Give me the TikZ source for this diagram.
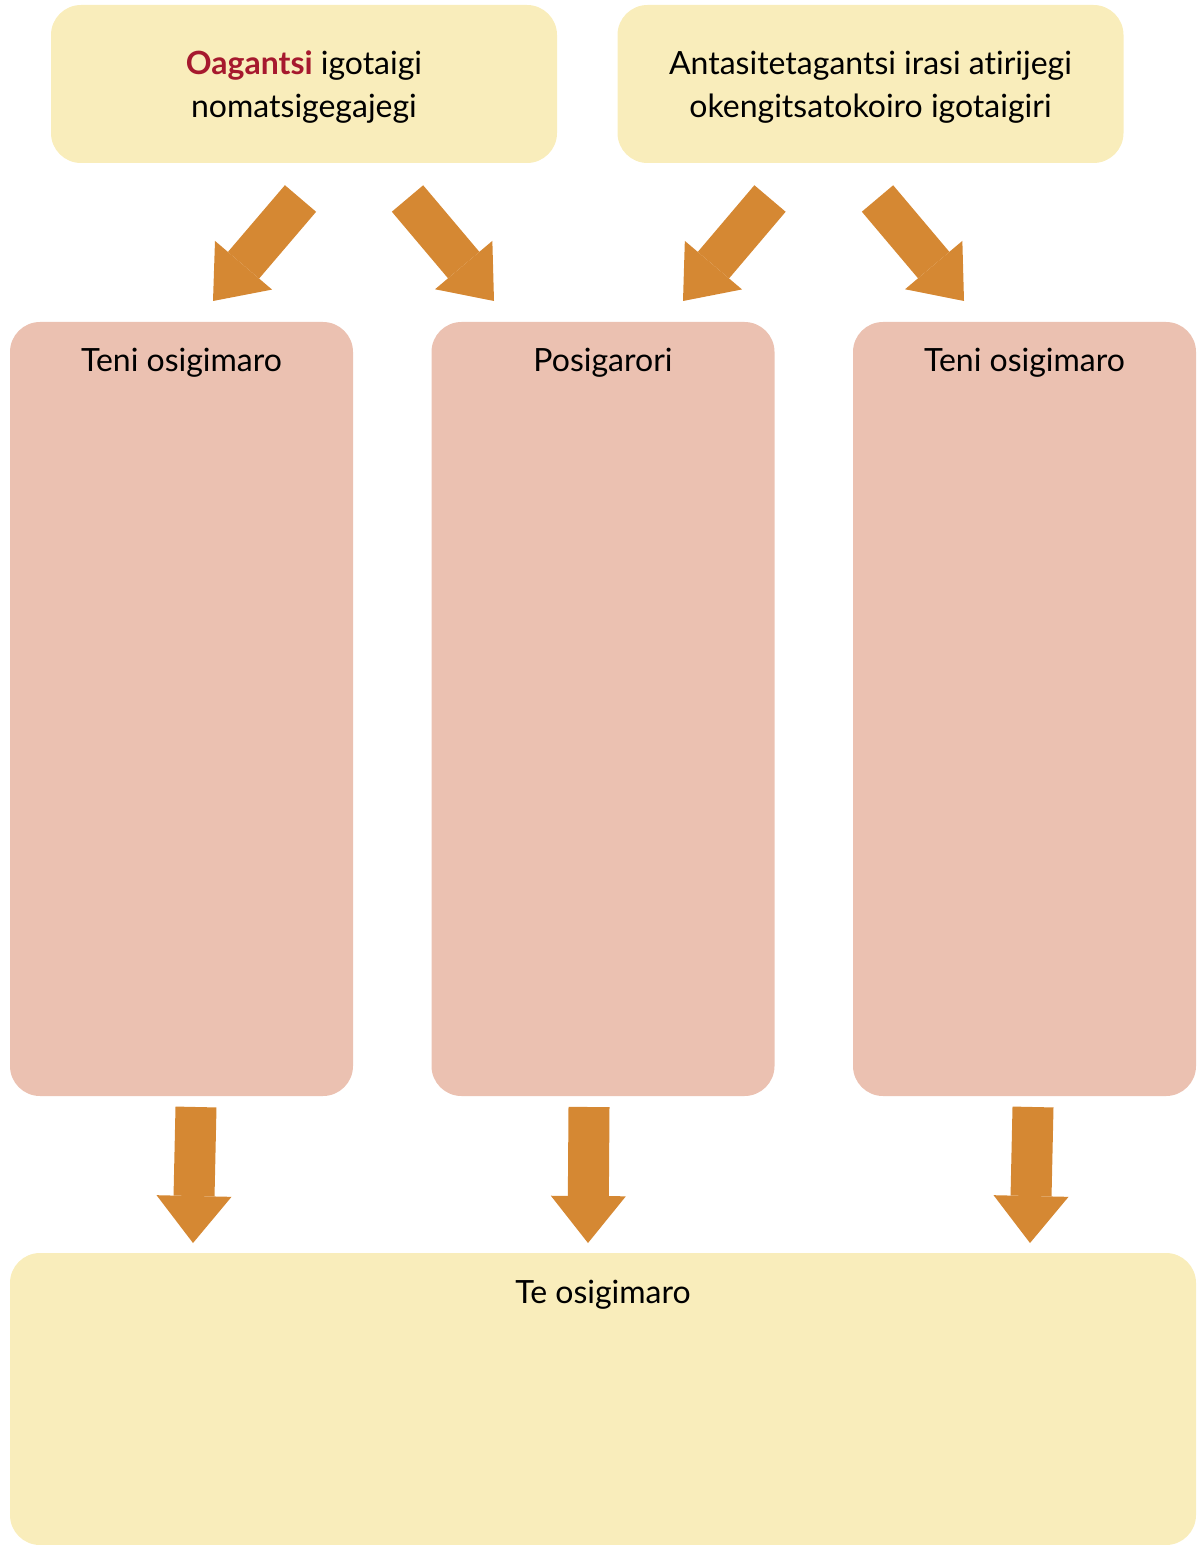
\documentclass[tikz,border=0pt]{standalone}
\usepackage{fontspec}
\setmainfont{Lato}[Ligatures={NoCommon}]
\usetikzlibrary{positioning, arrows.meta}
\definecolor{paleyellow}{HTML}{F9EDBB}
\definecolor{palepink}{HTML}{EBC1B1}
\definecolor{ochre}{HTML}{D58833}
\definecolor{wine}{HTML}{A6192E}

\begin{document}
\begin{tikzpicture}[
  x=0.5pt, y=-0.5pt,
  every node/.style={font=\fontsize{16}{21.5}\selectfont},
  box/.style={rounded corners=15pt, inner sep=0pt},
  topbox/.style={box, fill=paleyellow, minimum width=253pt, minimum height=79pt, align=center, text depth=0pt},
  colbox/.style={box, fill=palepink, minimum width=171.5pt, minimum height=387pt},
  basebox/.style={box, fill=paleyellow, minimum width=593pt, minimum height=146pt},
  title/.style={anchor=base, inner sep=0pt},
  fat/.style={draw=ochre, line width=20.5pt, -{Triangle[length=23.5pt, width=37.5pt, line width=0pt]}}
]
\useasboundingbox (0,0) rectangle (1197,1545);

% Top row: two sources
\node[topbox] (src1) at (304,84) {{\bfseries\color{wine}Oagantsi} igotaigi\\nomatsigegajegi};
\node[topbox] (src2) at (870.5,84) {Antasitetagantsi irasi atirijegi\\okengitsatokoiro igotaigiri};

% Middle row: three columns
\node[colbox] (col1) at (181.5,709) {};
\node[colbox] (col2) at (603,709) {};
\node[colbox] (col3) at (1024.5,709) {};
\node[title] (head1) at (181.5,372) {Teni osigimaro};
\node[title] (head2) at (603,372) {Posigarori};
\node[title] (head3) at (1024.5,372) {Teni osigimaro};

% Bottom row
\node[basebox] (sum) at (603,1399) {};
\node[title] (head4) at (603,1303) {Te osigimaro};

% Arrow ends
\coordinate (a1s) at (300.5,198.5); \coordinate (a1e) at (213,301);
\coordinate (a2s) at (407.5,198.5); \coordinate (a2e) at (494,301);
\coordinate (a3s) at (770,198.5);   \coordinate (a3e) at (683,301);
\coordinate (a4s) at (877.5,198.5); \coordinate (a4e) at (964,301);
\coordinate (b1s) at (196,1107);    \coordinate (b1e) at (193,1243);
\coordinate (b2s) at (589,1107);    \coordinate (b2e) at (588,1243);
\coordinate (b3s) at (1033,1107);   \coordinate (b3e) at (1030,1243);

% Arrows top
\draw[fat] (a1s) -- (a1e);
\draw[fat] (a2s) -- (a2e);
\draw[fat] (a3s) -- (a3e);
\draw[fat] (a4s) -- (a4e);

% Arrows bottom
\draw[fat] (b1s) -- (b1e);
\draw[fat] (b2s) -- (b2e);
\draw[fat] (b3s) -- (b3e);

\end{tikzpicture}
\end{document}
